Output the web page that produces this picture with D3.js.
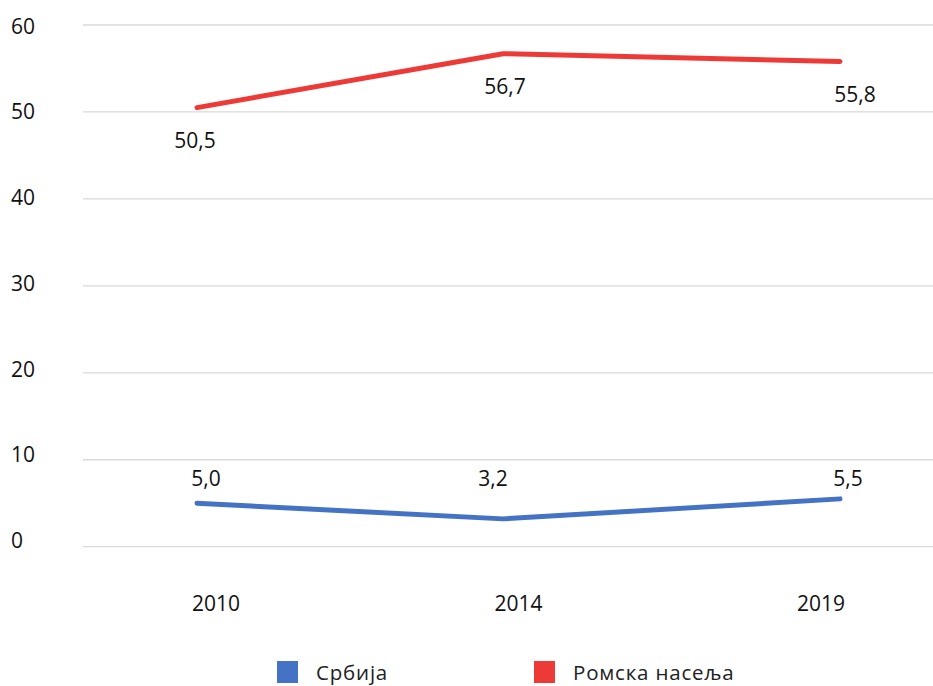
<!DOCTYPE html>
<html>
<head>
<meta charset="utf-8">
<script src="https://cdn.jsdelivr.net/npm/d3@7"></script>
<style>
  html, body { margin: 0; padding: 0; background: #fff; }
  svg { display: block; font-family: "Open Sans", "Noto Sans", sans-serif; }
</style>
</head>
<body>
<svg id="chart" width="933" height="686"></svg>
<script>
const years = ["2010", "2014", "2019"];
const serbia = [5.0, 3.2, 5.5];
const romaSettlements = [50.5, 56.7, 55.8];
const seriesNames = ["Србија", "Ромска насеља"];
const seriesColors = ["#4472C4", "#EE3A36"];
const yTicks = [0, 10, 20, 30, 40, 50, 60];

const svg = d3.select("#chart");
const W = 933, H = 686;

const y = d3.scaleLinear().domain([0, 60]).range([546.7, 25]);
const yLab = d3.scaleLinear().domain([0, 60]).range([540, 25.5]);
// category label axis (evenly spaced)
const xAxisScale = d3.scalePoint().domain(years).range([216, 821]);
// line positions
const xLine = d3.scaleLinear().domain(years.map(Number)).range([197, 503, 840]);

// gridlines
svg.append("g").selectAll("line").data(yTicks).join("line")
  .attr("x1", 83).attr("x2", W)
  .attr("y1", d => y(d)).attr("y2", d => y(d))
  .attr("stroke", "#d9d9d9").attr("stroke-width", 1.3);

// y tick labels
svg.append("g").selectAll("text").data(yTicks).join("text")
  .attr("x", 11).attr("y", d => yLab(d))
  .attr("dominant-baseline", "central")
  .attr("font-size", 21).attr("fill", "#111")
  .text(d => d);

// x labels
svg.append("g").selectAll("text").data(years).join("text")
  .attr("x", d => xAxisScale(d)).attr("y", 611)
  .attr("text-anchor", "middle")
  .attr("font-size", 21).attr("fill", "#111")
  .text(d => d);

const series = [
  { name: seriesNames[0], values: serbia, color: seriesColors[0] },
  { name: seriesNames[1], values: romaSettlements, color: seriesColors[1] }
];

const line = d3.line()
  .x((d, i) => xLine(+years[i]))
  .y(d => y(d));

series.forEach(s => {
  svg.append("path")
    .datum(s.values)
    .attr("d", line)
    .attr("fill", "none")
    .attr("stroke", s.color)
    .attr("stroke-width", 5)
    .attr("stroke-linecap", "round")
    .attr("stroke-linejoin", "round");
});

const fmt = v => d3.format(".1f")(v).replace(".", ",");

// Serbia labels (above, on a common row)
const blueRow = y(10) + 26;
svg.append("g").selectAll("text").data(serbia).join("text")
  .attr("x", (d, i) => xLine(+years[i]) + [9, -10, 8][i])
  .attr("y", blueRow)
  .attr("text-anchor", "middle")
  .attr("font-size", 21).attr("fill", "#111")
  .text(d => fmt(d));

// Roma labels (below)
svg.append("g").selectAll("text").data(romaSettlements).join("text")
  .attr("x", (d, i) => xLine(+years[i]) + [-2, 2, 15][i])
  .attr("y", d => y(d) + 40)
  .attr("text-anchor", "middle")
  .attr("font-size", 21).attr("fill", "#111")
  .text(d => fmt(d));

// legend
const legendX = [277, 534];
const leg = svg.append("g").selectAll("g").data(series).join("g")
  .attr("transform", (d, i) => `translate(${legendX[i]},661)`);
leg.append("rect").attr("width", 21).attr("height", 22).attr("fill", d => d.color);
leg.append("text").attr("x", 39).attr("y", 19)
  .attr("font-size", 20.5).attr("fill", "#222")
  .attr("letter-spacing", 0.8)
  .text(d => d.name);
</script>
</body>
</html>
